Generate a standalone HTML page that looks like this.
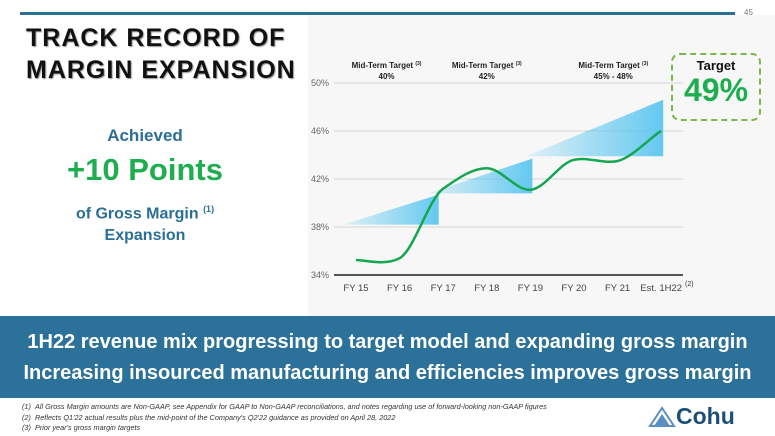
<!DOCTYPE html>
<html><head><meta charset="utf-8">
<style>
body{margin:0;width:775px;height:436px;overflow:hidden;background:#fff;font-family:"Liberation Sans",sans-serif;position:relative}
.abs{position:absolute}
</style></head><body>
<div class="abs" style="left:308px;top:15px;width:467px;height:302px;background:#f7f7f7"></div>
<div class="abs" style="left:20px;top:12px;width:715px;height:3px;background:#2b6f97"></div>
<div class="abs" style="left:744px;top:8px;font-size:8px;color:#777">45</div>
<div class="abs" style="left:26px;top:22px;font-size:25px;font-weight:bold;line-height:32px;color:#111;text-shadow:1px 1px 1px #999;letter-spacing:1px">TRACK RECORD OF<br>MARGIN EXPANSION</div>
<div class="abs" style="left:0;width:290px;top:126px;text-align:center;font-size:17px;font-weight:bold;color:#2b6f97">Achieved</div>
<div class="abs" style="left:0;width:290px;top:152px;text-align:center;font-size:31px;font-weight:bold;color:#1fae4f">+10 Points</div>
<div class="abs" style="left:0;width:290px;top:198px;text-align:center;font-size:16px;font-weight:bold;color:#2b6f97;line-height:22px">of Gross Margin <sup style="font-size:9px">(1)</sup><br>Expansion</div>

<svg class="abs" style="left:0;top:0" width="775" height="436">
<defs>
<linearGradient id="wg" x1="0" x2="1" y1="0" y2="0"><stop offset="0" stop-color="#5cc6f0" stop-opacity="0.15"/><stop offset="1" stop-color="#5cc6f0" stop-opacity="0.95"/></linearGradient>
</defs>
<g id="grid"></g><g id="wedges"></g><g id="line"></g><g id="labels"></g>
</svg>

<div class="abs" style="left:671px;top:53px;width:86px;height:64px;border:2px dashed #7ab648;border-radius:9px;text-align:center">
<div style="font-size:13px;font-weight:bold;color:#111;margin-top:3px">Target</div>
<div style="font-size:32px;font-weight:bold;color:#1fae4f;line-height:34px">49%</div>
</div>

<div class="abs" style="left:0;top:316px;width:775px;height:82px;background:#2b7199;color:#fff;font-weight:bold;font-size:20px;line-height:31px;padding-top:11px;box-sizing:border-box;text-align:center;white-space:nowrap">
1H22 revenue mix progressing to target model and expanding gross margin<br>Increasing insourced manufacturing and efficiencies improves gross margin</div>
<div class="abs" style="left:22px;top:402px;font-size:7.3px;font-style:italic;color:#333;line-height:10.5px">
(1)&nbsp;&nbsp;All Gross Margin amounts are Non-GAAP, see Appendix for GAAP to Non-GAAP reconciliations, and notes regarding use of forward-looking non-GAAP figures<br>
(2)&nbsp;&nbsp;Reflects Q1'22 actual results plus the mid-point of the Company's Q2'22 guidance as provided on April 28, 2022<br>
(3)&nbsp;&nbsp;Prior year's gross margin targets</div>
<div class="abs" style="left:648px;top:403px;font-size:23px;color:#1d4f7a;font-weight:bold">
<svg width="28" height="22" style="vertical-align:-3px"><polygon points="2,21 14,3 26,21" fill="none" stroke="#5b8fbd" stroke-width="2"/><polygon points="6,21 14,9 22,21" fill="#5b8fbd"/></svg>Cohu</div>

<script>
const categories=["FY 15","FY 16","FY 17","FY 18","FY 19","FY 20","FY 21","Est. 1H22"];
const margins=[35.25,35.4,41.2,42.9,41.1,43.6,43.5,46.0];
const yTicks=[34,38,42,46,50];
const wedgeStart=[0,1.95,4.2];
const wedgeEnd=[1.85,4.0,7.0];
const wedgeLow=[38.2,40.8,43.9];
const wedgeHigh=[40.7,43.7,48.6];
const targetTitles=["Mid-Term Target","Mid-Term Target","Mid-Term Target"];
const targetValues=["40%","42%","45% - 48%"];
const targetPos=[0.7,3.0,5.9];

const NS="http://www.w3.org/2000/svg";
const x=i=>356+i*43.6;
const y=v=>275-(v-34)*12;
function mk(t,a,p){const e=document.createElementNS(NS,t);for(const k in a)e.setAttribute(k,a[k]);p.appendChild(e);return e;}
const grid=document.getElementById('grid'),wed=document.getElementById('wedges'),ln=document.getElementById('line'),lb=document.getElementById('labels');
yTicks.forEach(v=>{
 const g=mk('line',{x1:334,x2:683,y1:y(v),y2:y(v),stroke:v===34?'#555':'#d4d4d4','stroke-width':v===34?2:1},grid);
 
 
 const t=mk('text',{x:329,y:y(v)+3,'text-anchor':'end','font-size':9,fill:'#666','font-family':'Liberation Sans'},lb);
 t.textContent=v+'%';
 
 
});
categories.forEach((c,i)=>{
 const t=mk('text',{x:x(i),y:291,'text-anchor':'middle','font-size':9.5,fill:'#444','font-family':'Liberation Sans'},lb);
 t.textContent=c;
 
 
});
const n2=mk('text',{x:685,y:286,'font-size':7,fill:'#333','font-family':'Liberation Sans'},lb);n2.textContent='(2)';


wedgeStart.forEach((s,i)=>{
 const x1=x(s)-13,x2=x(wedgeEnd[i])+2;
 const p=mk('polygon',{points:`${x1},${y(wedgeLow[i])} ${x2},${y(wedgeHigh[i])} ${x2},${y(wedgeLow[i])}`,fill:'url(#wg)'},wed);
 
 
 const tx=x(targetPos[i]);
 const t1=mk('text',{x:tx,y:68,'text-anchor':'middle','font-size':8,'font-weight':'bold',fill:'#222','font-family':'Liberation Sans'},lb);
 t1.innerHTML=targetTitles[i]+' <tspan font-size="5" dy="-3">(3)</tspan>';
 
 
 const t2=mk('text',{x:tx,y:79,'text-anchor':'middle','font-size':8,'font-weight':'bold',fill:'#222','font-family':'Liberation Sans'},lb);
 t2.textContent=targetValues[i];
 
 
});
const pts=margins.map((v,i)=>[x(i),y(v)]);
const k=9;
let d=`M${pts[0][0]},${pts[0][1]}`;
for(let i=0;i<pts.length-1;i++){
 const p0=pts[i-1]||pts[i],p1=pts[i],p2=pts[i+1],p3=pts[i+2]||p2;
 const c1=[p1[0]+(p2[0]-p0[0])/6,p1[1]+(p2[1]-p0[1])/k],c2=[p2[0]-(p3[0]-p1[0])/6,p2[1]-(p3[1]-p1[1])/k];
 d+=` C${c1[0]},${c1[1]} ${c2[0]},${c2[1]} ${p2[0]},${p2[1]}`;
}
const path=mk('path',{d:d,fill:'none',stroke:'#14a650','stroke-width':2.5},ln);


</script>
</body></html>
